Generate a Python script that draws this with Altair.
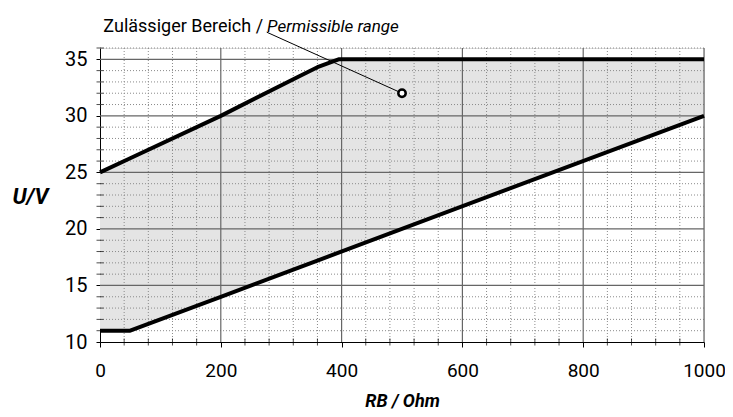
import altair as alt
import pandas as pd

# Boundary readings (RB in Ohm, U in V)
rb = [0, 50, 200, 330, 360, 395, 1000]
u_upper = [25, 26.25, 30, 33.5, 34.3, 35, 35]
u_lower = [11, 11, 14, 16.6, 17.2, 17.9, 30]

x_major = [200, 400, 600, 800, 1000]
y_major = [15, 20, 25, 30, 35]
x_minor = [v for v in range(40, 1000, 40) if v % 200 != 0]
y_minor = [v for v in range(11, 37) if v % 5 != 0]

x_ticks = [0, 200, 400, 600, 800, 1000]
y_ticks = [10, 15, 20, 25, 30, 35]

marker_x = [500]
marker_y = [32]
leader = {"x": [500], "y": [32], "x2": [276], "y2": [37.4]}
label_anchor_x = [275]
label_anchor_y = [37.45]
label_normal = ["Zulässiger Bereich /"]
label_italic = ["Permissible range"]

FONT = "Roboto, Liberation Sans, sans-serif"

band = pd.DataFrame({"rb": rb, "up": u_upper, "lo": u_lower})
xs = alt.Scale(domain=[0, 1000], nice=False, zero=False)
ys = alt.Scale(domain=[10, 36], nice=False, zero=False)

X = alt.X("rb:Q", scale=xs, axis=alt.Axis(values=x_ticks, grid=False, title="RB / Ohm", format="d",
          titleFont=FONT, titleFontSize=18, titleFontWeight="bold", titleFontStyle="italic",
          titleY=64, titleBaseline="alphabetic", labelFontSize=19, labelFont=FONT,
          labelPadding=14, tickSize=5, labelColor="black", titleColor="black",
          domainColor="black", tickColor="black", labelFlush=False))
Y = alt.Y("up:Q", scale=ys, axis=alt.Axis(values=y_ticks, grid=False, title="U/V",
          titleAngle=0, titleX=-70, titleY=148, titleAlign="center", titleBaseline="middle",
          titleFont=FONT, titleFontSize=22, titleFontWeight="bold", titleFontStyle="italic",
          labelFontSize=20, labelFont=FONT, labelPadding=9, tickSize=4,
          labelColor="black", titleColor="black", domainColor="black", tickColor="black"))

area = alt.Chart(band).mark_area(color="#e4e4e4", opacity=1).encode(x=X, y=Y, y2="lo:Q")

minor_v = alt.Chart(pd.DataFrame({"rb": x_minor})).mark_rule(
    color="#8a8a8a", strokeDash=[1, 2], strokeWidth=1).encode(x=alt.X("rb:Q", scale=xs))
minor_h = alt.Chart(pd.DataFrame({"up": y_minor})).mark_rule(
    color="#8a8a8a", strokeDash=[1, 2], strokeWidth=1).encode(y=alt.Y("up:Q", scale=ys))
major_v = alt.Chart(pd.DataFrame({"rb": x_major})).mark_rule(
    color="#666666", strokeWidth=1.2).encode(x=alt.X("rb:Q", scale=xs))
major_h = alt.Chart(pd.DataFrame({"up": y_major})).mark_rule(
    color="#666666", strokeWidth=1.2).encode(y=alt.Y("up:Q", scale=ys))

xtick_df = pd.DataFrame({"rb": x_minor, "up": [10] * len(x_minor)})
minor_xt = alt.Chart(xtick_df).mark_tick(orient="vertical", size=7, thickness=1, color="black").encode(
    x=alt.X("rb:Q", scale=xs), y=alt.Y("up:Q", scale=ys))
ytick_df = pd.DataFrame({"rb": [0] * len(y_minor), "up": y_minor})
minor_yt = alt.Chart(ytick_df).mark_tick(orient="horizontal", size=7, thickness=1, color="black").encode(
    x=alt.X("rb:Q", scale=xs), y=alt.Y("up:Q", scale=ys))

upper_line = alt.Chart(band).mark_line(color="black", strokeWidth=4, strokeJoin="round").encode(
    x=alt.X("rb:Q", scale=xs), y=alt.Y("up:Q", scale=ys))
lower_line = alt.Chart(band).mark_line(color="black", strokeWidth=4, strokeJoin="round").encode(
    x=alt.X("rb:Q", scale=xs), y=alt.Y("lo:Q", scale=ys))

lead = alt.Chart(pd.DataFrame(leader)).mark_rule(color="black", strokeWidth=1).encode(
    x=alt.X("x:Q", scale=xs), y=alt.Y("y:Q", scale=ys), x2="x2:Q", y2="y2:Q")
marker = alt.Chart(pd.DataFrame({"rb": marker_x, "up": marker_y})).mark_point(
    shape="circle", size=55, filled=True, fill="white", stroke="black", strokeWidth=2.5, opacity=1).encode(
    x=alt.X("rb:Q", scale=xs), y=alt.Y("up:Q", scale=ys))

lab_df = pd.DataFrame({"rb": label_anchor_x, "up": label_anchor_y, "a": label_normal, "b": label_italic})
lab1 = alt.Chart(lab_df).mark_text(align="right", baseline="alphabetic", dx=-3, font=FONT,
                                   fontSize=18, color="black").encode(
    x=alt.X("rb:Q", scale=xs), y=alt.Y("up:Q", scale=ys), text="a:N")
lab2 = alt.Chart(lab_df).mark_text(align="left", baseline="alphabetic", dx=1, font=FONT,
                                   fontSize=17, fontStyle="italic", color="black").encode(
    x=alt.X("rb:Q", scale=xs), y=alt.Y("up:Q", scale=ys), text="b:N")

chart = alt.layer(area, minor_v, minor_h, major_v, major_h, minor_xt, minor_yt,
                  upper_line, lower_line, lead, marker, lab1, lab2).properties(
    width=604, height=294,
    padding={"left": 92, "top": 40, "right": 21, "bottom": 67},
    autosize=alt.AutoSizeParams(type="none"),
).configure_view(stroke=None).configure(background="white")

chart.save("out.html", embed_options={"renderer": "svg", "actions": False})
